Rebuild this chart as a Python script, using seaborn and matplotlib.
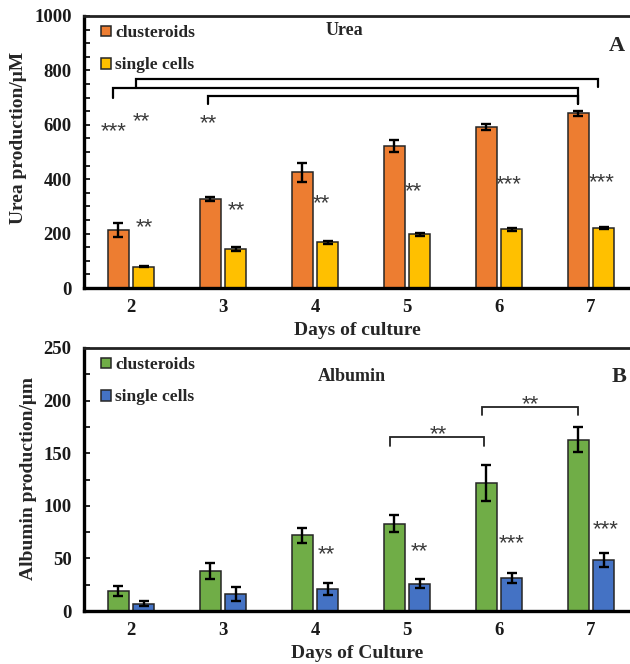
import numpy as np
import pandas as pd
import matplotlib
matplotlib.use("Agg")
import matplotlib.pyplot as plt
import seaborn as sns

# ---- data ----
days = ["2", "3", "4", "5", "6", "7"]
groups = ["clusteroids", "single cells"]

urea_clusteroids = [213, 327, 425, 522, 592, 643]
urea_clusteroids_err = [27, 6, 34, 22, 11, 9]
urea_single = [78, 142, 168, 197, 216, 221]
urea_single_err = [2, 7, 6, 6, 5, 4]

albumin_clusteroids = [19, 38, 72, 83, 122, 163]
albumin_clusteroids_err = [5, 7.5, 7, 8, 17, 11.5]
albumin_single = [7, 16, 21, 26, 31.5, 48.5]
albumin_single_err = [2.5, 6.5, 5.5, 4.5, 5, 6.5]

# significance marks: (text, day index position, value)
urea_bar_stars = [("**", 0.14, 246), ("**", 1.14, 309), ("**", 2.07, 335),
                  ("**", 3.07, 379), ("***", 4.10, 404), ("***", 5.12, 412)]
urea_pair_stars = [("***", -0.185, 599), ("**", 0.115, 636), ("**", 0.842, 629)]
albumin_bar_stars = [("**", 2.12, 60), ("**", 3.13, 63), ("***", 4.14, 71), ("***", 5.16, 84)]
albumin_pair_stars = [("**", 3.34, 174), ("**", 4.34, 203)]

urea_colors = ["#ED7D31", "#FFC000"]
albumin_colors = ["#70AD47", "#4472C4"]

SERIF = ["Liberation Serif", "DejaVu Serif"]
SANS = ["Liberation Sans", "DejaVu Sans"]

sns.set_theme(style="white")
plt.rcParams["font.family"] = SERIF
plt.rcParams["font.weight"] = "bold"

fig = plt.figure(figsize=(6.30, 6.64), dpi=100)
W, H = 630, 664


def px_axes(left, top, right, bottom):
    return fig.add_axes([left / W, 1 - bottom / H, (right - left) / W, (bottom - top) / H])


ax1 = px_axes(84, 16, 630, 288)
ax2 = px_axes(84, 348, 630, 611)


def long_frame(v1, v2):
    return pd.DataFrame({
        "day": days * 2,
        "group": [groups[0]] * len(days) + [groups[1]] * len(days),
        "value": list(v1) + list(v2),
    })


def draw_panel(ax, v1, e1, v2, e2, colors, ymax, major, minor):
    df = long_frame(v1, v2)
    sns.barplot(data=df, x="day", y="value", hue="group", order=days, hue_order=groups,
                palette=colors, width=0.555, gap=0.18, errorbar=None,
                edgecolor="#262626", linewidth=1.1, saturation=1, ax=ax)
    for cont, vals, errs in zip(ax.containers, [v1, v2], [e1, e2]):
        xs = [p.get_x() + p.get_width() / 2 for p in cont.patches]
        ax.errorbar(xs, vals, yerr=errs, fmt="none", ecolor="black",
                    elinewidth=1.7, capsize=3.3, capthick=1.7, zorder=5)
    ax.set_xlim(-0.511, 5.424)
    ax.set_ylim(0, ymax)
    ax.set_yticks(np.arange(0, ymax + 1, major))
    ax.set_yticks(np.arange(0, ymax + 1, minor), minor=True)
    ax.tick_params(axis="y", which="both", direction="in", length=4, width=1.2,
                   left=True, labelsize=13.5, pad=9, color="black")
    ax.tick_params(axis="x", length=0, labelsize=13.5, pad=8)
    for lab in ax.get_xticklabels() + ax.get_yticklabels():
        lab.set_fontweight("bold")
        lab.set_color("#1a1a1a")
    for side in ["left", "bottom"]:
        ax.spines[side].set_linewidth(2.4)
        ax.spines[side].set_color("black")
    ax.spines["top"].set_linewidth(2.0)
    ax.spines["top"].set_color("#222222")
    ax.spines["right"].set_visible(False)
    handles, labels = ax.get_legend_handles_labels()
    ax.legend(handles, labels, loc="upper left", frameon=False,
              bbox_to_anchor=(17 / 546, 1 - 9 / ax.bbox.height),
              borderaxespad=0, borderpad=0, handlelength=0.55, handleheight=0.55,
              handletextpad=0.25, labelspacing=0.95,
              prop={"family": SERIF, "weight": "bold", "size": 12.5})


def stars(ax, items, size=16):
    for txt, x, y in items:
        ax.annotate(txt, xy=(x, y), xytext=(0, -5), textcoords="offset points",
                    ha="center", va="center", fontsize=size, color="#3a3a3a",
                    family=SANS, fontweight="normal")


def bracket(ax, x0, x1, y, y0, y1, lw=1.6, color="black"):
    ax.plot([x0, x0, x1, x1], [y0, y, y, y1], color=color, lw=lw,
            solid_joinstyle="miter", clip_on=False, zorder=6)


# ---- Urea panel ----
draw_panel(ax1, urea_clusteroids, urea_clusteroids_err, urea_single, urea_single_err,
           urea_colors, 1000, 200, 50)
ax1.set_xlabel("Days of culture", fontsize=14, fontweight="bold", labelpad=4)
ax1.set_ylabel("Urea production/μM", fontsize=14, fontweight="bold")
ax1.yaxis.set_label_coords((27 - 84) / 546, (288 - 137.5) / 272)
ax1.text(2.315, 948, "Urea", ha="center", va="center", fontsize=13, fontweight="bold")
ax1.text(5.28, 888, "A", ha="center", va="center", fontsize=16, fontweight="bold")
bracket(ax1, -0.196, 4.859, 734, 697, 676)
bracket(ax1, 0.054, 5.076, 768, 734, 740)
bracket(ax1, 0.837, 4.859, 707, 676, 676)
stars(ax1, urea_bar_stars)
stars(ax1, urea_pair_stars)

# ---- Albumin panel ----
draw_panel(ax2, albumin_clusteroids, albumin_clusteroids_err, albumin_single, albumin_single_err,
           albumin_colors, 250, 50, 25)
ax2.set_xlabel("Days of Culture", fontsize=14, fontweight="bold", labelpad=4)
ax2.set_ylabel("Albumin production/μm", fontsize=14, fontweight="bold")
ax2.yaxis.set_label_coords((37 - 84) / 546, (611 - 479) / 263)
ax2.text(2.40, 223, "Albumin", ha="center", va="center", fontsize=13, fontweight="bold")
ax2.text(5.30, 222, "B", ha="center", va="center", fontsize=16, fontweight="bold")
bracket(ax2, 2.82, 3.84, 165, 157, 157, lw=1.3, color="#222222")
bracket(ax2, 3.815, 4.86, 194, 186, 186, lw=1.3, color="#222222")
stars(ax2, albumin_bar_stars)
stars(ax2, albumin_pair_stars)

fig.savefig("out.png", dpi=100)
